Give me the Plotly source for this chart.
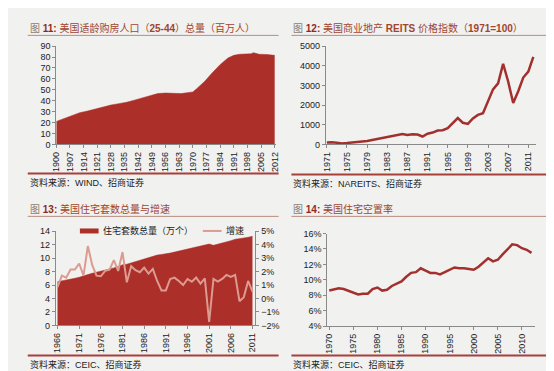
import plotly.graph_objects as go

# ---------------- data ----------------
# Fig 11: US home-buying age population (25-44), millions
pop_years = [1900, 1904, 1908, 1912, 1916, 1920, 1924, 1928, 1932, 1936, 1940, 1944,
             1948, 1952, 1956, 1960, 1964, 1968, 1970, 1972, 1976, 1980, 1984, 1988,
             1991, 1994, 1997, 2000, 2001, 2004, 2008, 2012]
pop_values = [21, 23.5, 26.5, 29, 30.5, 32.5, 34.5, 36, 37.3, 38.5, 40.5, 42.5,
              45, 46.5, 47, 46.8, 46.5, 47.5, 48, 51, 57.5, 65.5, 73, 79,
              81.5, 82.5, 82.8, 83, 84, 82.5, 82.3, 81.5]
pop_ticks = list(range(1900, 2013, 7))

# Fig 12: US commercial real estate REITs price index (1971=100)
reit_years = list(range(1971, 2013))
reit_values = [100, 110, 80, 50, 65, 90, 115, 130, 170, 220, 270, 330, 400, 440, 470,
               530, 480, 510, 500, 400, 540, 600, 700, 720, 820, 1100, 1340, 1100, 1040,
               1320, 1500, 1580, 2200, 2800, 3100, 4100, 3200, 2100, 2700, 3400, 3700, 4450]
reit_ticks = list(range(1971, 2012, 4))

# Fig 13: US housing stock and growth
stock_years = list(range(1966, 2012))
stock_values = [6.5, 6.6, 6.7, 6.85, 7.0, 7.15, 7.3, 7.55, 7.75, 7.9, 8.0, 8.15, 8.35,
                8.55, 8.75, 9.0, 9.1, 9.3, 9.5, 9.7, 9.9, 10.1, 10.3, 10.45, 10.55, 10.6,
                10.75, 10.9, 11.05, 11.15, 11.3, 11.45, 11.6, 11.75, 11.9, 12.1, 11.9,
                12.05, 12.2, 12.4, 12.6, 12.8, 12.95, 13.0, 13.1, 13.25]
growth_values = [0.85, 1.7, 1.55, 2.15, 2.15, 2.6, 1.7, 3.9, 2.5, 1.7, 1.65, 2.05, 2.15,
                 2.85, 2.05, 3.45, 1.2, 2.4, 2.1, 1.95, 2.3, 1.85, 2.2, 1.3, 0.6, 0.6,
                 1.45, 1.55, 1.3, 1.0, 1.45, 1.25, 1.55, 1.1, 1.5, -1.75, 1.45, 1.25,
                 1.45, 1.75, 1.6, 1.75, -0.2, 0.1, 1.3, 0.5]
stock_ticks = list(range(1966, 2012, 5))
stock_names = ["住宅套数总量（万个）", "增速"]

# Fig 14: US housing vacancy rate (%)
vac_years = list(range(1970, 2013))
vac_values = [8.6, 8.8, 8.9, 8.8, 8.6, 8.4, 8.1, 8.2, 8.2, 8.8, 9.0, 8.6, 8.7, 9.2, 9.5,
              9.8, 10.4, 10.9, 11.0, 11.5, 11.2, 10.9, 10.9, 10.7, 11.0, 11.3, 11.6, 11.5,
              11.5, 11.4, 11.3, 11.7, 12.2, 12.8, 12.4, 12.6, 13.3, 14.0, 14.6, 14.5,
              14.1, 13.9, 13.5]
vac_ticks = list(range(1970, 2011, 5))

# ---------------- styling ----------------
W, H = 554, 371
BG = "#f1f1f0"
RED = "#ac2f29"
LINE_RED = "#a3302d"
PINK = "#dc9b90"
TXT = "#222222"
FONT = "Arial, Liberation Sans, Noto Sans CJK SC, sans-serif"


def fx(x):
    return x / W


def fy(y):
    return 1 - y / H


fig = go.Figure()

fig.add_trace(go.Scatter(x=pop_years, y=pop_values, mode="lines", fill="tozeroy",
                         line=dict(color=RED, width=0.5), fillcolor=RED,
                         xaxis="x", yaxis="y", showlegend=False))
fig.add_trace(go.Scatter(x=reit_years, y=reit_values, mode="lines",
                         line=dict(color=LINE_RED, width=2.5),
                         xaxis="x2", yaxis="y2", showlegend=False))
fig.add_trace(go.Scatter(x=stock_years, y=stock_values, mode="lines", fill="tozeroy",
                         line=dict(color=RED, width=0.5), fillcolor=RED,
                         name=stock_names[0], xaxis="x3", yaxis="y3", showlegend=False))
fig.add_trace(go.Scatter(x=stock_years, y=growth_values, mode="lines",
                         line=dict(color=PINK, width=2),
                         name=stock_names[1], xaxis="x3", yaxis="y5", showlegend=False))
fig.add_trace(go.Scatter(x=vac_years, y=vac_values, mode="lines",
                         line=dict(color=LINE_RED, width=2.5),
                         xaxis="x4", yaxis="y4", showlegend=False))

axis_common = dict(showgrid=False, zeroline=False, showline=True, linecolor="#8a8a8a",
                   linewidth=1, ticks="outside", ticklen=3, tickcolor="#8a8a8a",
                   tickfont=dict(family=FONT, size=9, color=TXT))
xcommon = dict(axis_common, tickangle=-90, tickmode="array")

fig.update_layout(
    width=W, height=H, autosize=False,
    margin=dict(l=0, r=0, t=0, b=0),
    paper_bgcolor=BG, plot_bgcolor=BG,
    font=dict(family=FONT, size=9, color=TXT),
    showlegend=False,
    # panel 1
    xaxis=dict(xcommon, domain=[fx(44), fx(267)], range=[1900, 2012.5],
               tickvals=pop_ticks, ticktext=[str(t) for t in pop_ticks], anchor="y"),
    yaxis=dict(axis_common, domain=[fy(135), fy(34)], range=[0, 90], dtick=10,
               anchor="x"),
    # panel 2
    xaxis2=dict(xcommon, domain=[fx(318), fx(532)], range=[1970.8, 2012.6],
                tickvals=reit_ticks, ticktext=[str(t) for t in reit_ticks], anchor="y2"),
    yaxis2=dict(axis_common, domain=[fy(135), fy(34)], range=[0, 5000], dtick=1000,
                anchor="x2"),
    # panel 3
    xaxis3=dict(xcommon, domain=[fx(43.5), fx(246.5)], range=[1965.6, 2011.7],
                tickvals=stock_ticks, ticktext=[str(t) for t in stock_ticks], anchor="y3"),
    yaxis3=dict(axis_common, domain=[fy(321), fy(224.3)], range=[0, 14], dtick=2,
                anchor="x3"),
    yaxis5=dict(axis_common, overlaying="y3", side="right", anchor="x3",
                range=[-2, 5], dtick=1, ticksuffix="%"),
    # panel 4
    xaxis4=dict(xcommon, domain=[fx(319.5), fx(531)], range=[1969.6, 2012.8],
                tickvals=vac_ticks, ticktext=[str(t) for t in vac_ticks], anchor="y4"),
    yaxis4=dict(axis_common, domain=[fy(321.7), fy(226.7)], range=[4, 16], dtick=2,
                ticksuffix="%", anchor="x4"),
)

# ---------------- legend for panel 3 (drawn manually) ----------------
LEG_Y = 224
fig.add_shape(type="line", xref="paper", yref="paper", x0=fx(68), x1=fx(87),
              y0=fy(LEG_Y), y1=fy(LEG_Y), line=dict(color=RED, width=5))
fig.add_annotation(x=fx(89), y=fy(LEG_Y), xref="paper", yref="paper", text=stock_names[0],
                   showarrow=False, xanchor="left", yanchor="middle",
                   font=dict(family=FONT, size=9, color=TXT))
fig.add_shape(type="line", xref="paper", yref="paper", x0=fx(193), x1=fx(212),
              y0=fy(LEG_Y), y1=fy(LEG_Y), line=dict(color=PINK, width=2))
fig.add_annotation(x=fx(214), y=fy(LEG_Y), xref="paper", yref="paper", text=stock_names[1],
                   showarrow=False, xanchor="left", yanchor="middle",
                   font=dict(family=FONT, size=9, color=TXT))

# ---------------- titles, rules, sources ----------------
GRAY_T = "#8c7d72"
RED_T = "#8e2b1c"
BROWN_T = "#a0452f"


def title_html(num, text):
    return (f'<span style="color:{GRAY_T}">图 </span>'
            f'<b><span style="color:{RED_T}">{num}:</span></b> '
            f'<span style="color:{BROWN_T}">{text}</span>')


titles = [
    (15, 15, title_html("11", "美国适龄购房人口（<b>25-44</b>）总量（百万人）")),
    (283, 15, title_html("12", "美国商业地产 <b>REITS</b> 价格指数（<b>1971=100</b>）")),
    (15, 201, title_html("13", "美国住宅套数总量与增速")),
    (283, 201, title_html("14", "美国住宅空置率")),
]
for x, y, t in titles:
    fig.add_annotation(x=fx(x), y=fy(y), xref="paper", yref="paper", text=t,
                       showarrow=False, xanchor="left", yanchor="middle",
                       font=dict(family=FONT, size=10))

sources = [
    (15, 174, "资料来源：WIND、招商证券"),
    (283, 175, "资料来源：NAREITS、招商证券"),
    (15, 361, "资料来源：CEIC、招商证券"),
    (283, 361, "资料来源：CEIC、招商证券"),
]
for x, y, t in sources:
    fig.add_annotation(x=fx(x), y=fy(y), xref="paper", yref="paper", text=t,
                       showarrow=False, xanchor="left", yanchor="middle",
                       font=dict(family=FONT, size=9, color=TXT))

rules = [
    (15, 270, 23, "#b98c80", 1),
    (283, 542, 23, "#b98c80", 1),
    (15, 270, 209, "#b98c80", 1),
    (283, 542, 209, "#b98c80", 1),
    (15, 270, 165, "#a8403a", 2),
    (283, 542, 166, "#a8403a", 2),
    (15, 270, 352, "#a8403a", 2),
    (283, 542, 352, "#a8403a", 2),
]
for x0, x1, y, c, w in rules:
    fig.add_shape(type="line", xref="paper", yref="paper", x0=fx(x0), x1=fx(x1),
                  y0=fy(y), y1=fy(y), line=dict(color=c, width=w))

fig.write_html("out.html")
